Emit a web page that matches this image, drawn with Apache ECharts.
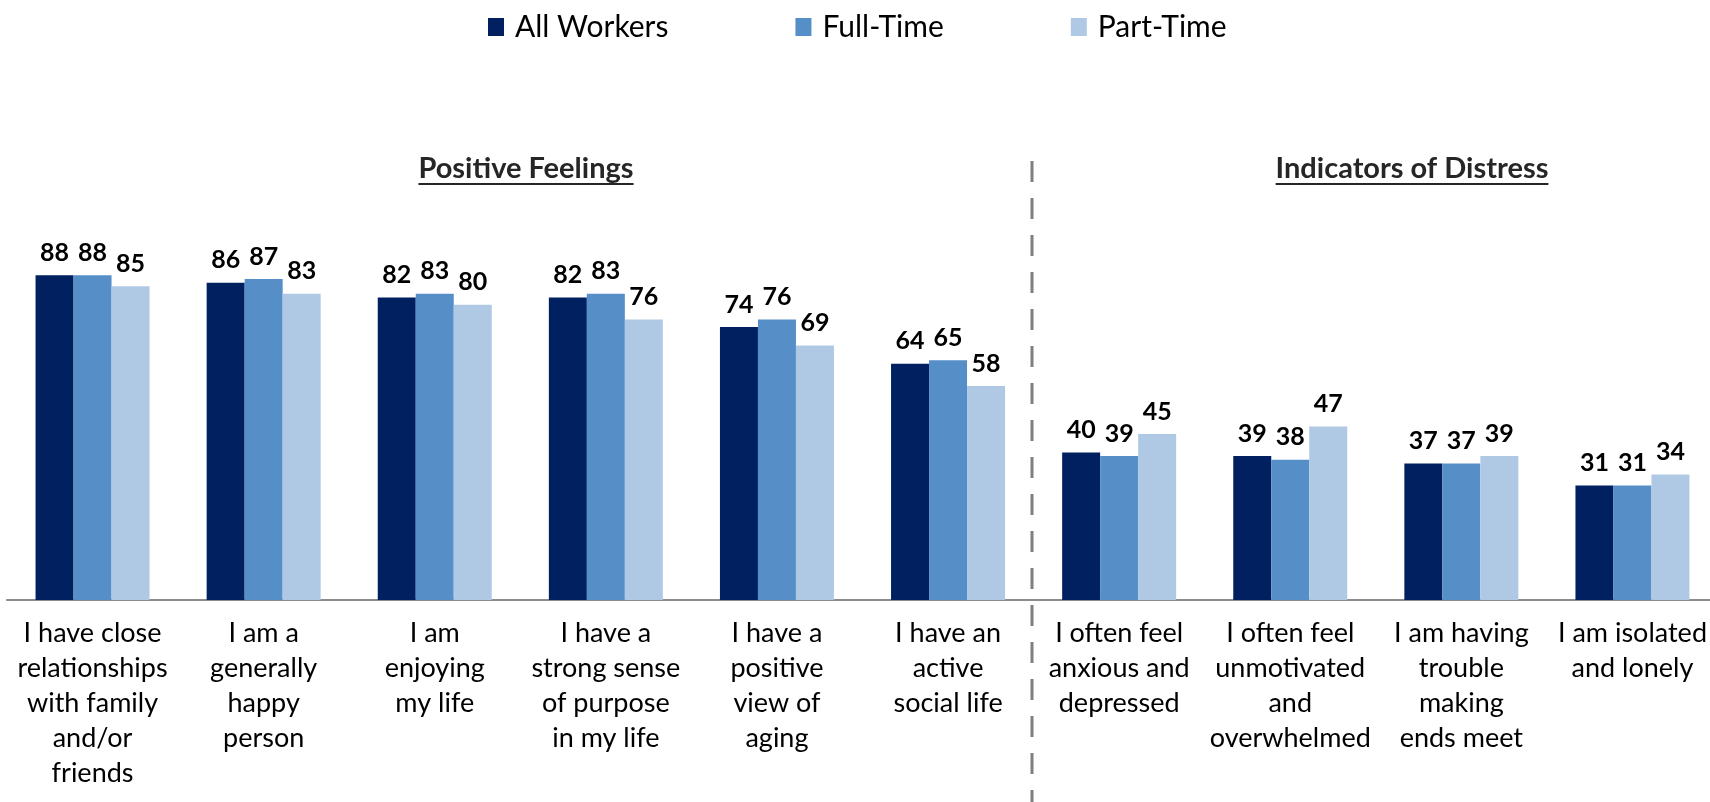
<!DOCTYPE html>
<html>
<head>
<meta charset="utf-8">
<title>Feelings chart</title>
<script src="https://cdn.jsdelivr.net/npm/echarts@6/dist/echarts.min.js"></script>
<style>
  html, body { margin: 0; padding: 0; background: #fff; overflow: hidden; }
  /* a bit wider than the window: the last group runs off the right edge */
  #chart { width: 1720px; height: 802px; }
</style>
</head>
<body>
<div id="chart"></div>
<script>
var categories = [
  'I have close\nrelationships\nwith family\nand/or\nfriends',
  'I am a\ngenerally\nhappy\nperson',
  'I am\nenjoying\nmy life',
  'I have a\nstrong sense\nof purpose\nin my life',
  'I have a\npositive\nview of\naging',
  'I have an\nactive\nsocial life',
  'I often feel\nanxious and\ndepressed',
  'I often feel\nunmotivated\nand\noverwhelmed',
  'I am having\ntrouble\nmaking\nends meet',
  'I am isolated\nand lonely'
]
var allWorkers = [88, 86, 82, 82, 74, 64, 40, 39, 37, 31]
var fullTime = [88, 87, 83, 83, 76, 65, 39, 38, 37, 31]
var partTime = [85, 83, 80, 76, 69, 58, 45, 47, 39, 34]
var seriesNames = ['All Workers', 'Full-Time', 'Part-Time']
var sectionTitles = ['Positive Feelings', 'Indicators of Distress']

var FONT = 'Lato, "Open Sans", sans-serif'
var colors = ['#002060', '#568EC8', '#AFC9E4']

var chart = echarts.init(document.getElementById('chart'))

function barSeries(name, data, color) {
  return {
    name: name,
    type: 'bar',
    data: data,
    barWidth: 38,
    barGap: '0%',
    itemStyle: { color: color },
    label: {
      show: true,
      position: 'top',
      distance: 10,
      fontFamily: FONT,
      fontWeight: 'bold',
      fontSize: 25,
      color: '#000'
    }
  }
}

// measure text so the underline fits the section title
function textWidth(str, font) {
  var ctx = document.createElement('canvas').getContext('2d')
  ctx.font = font
  return ctx.measureText(str).width
}

chart.setOption({
  animation: false,
  color: colors,
  legend: {
    top: 7,
    left: 483,
    itemGap: 127,
    itemWidth: 16,
    itemHeight: 18,
    icon: 'rect',
    textStyle: { fontFamily: FONT, fontSize: 30, color: '#000', padding: [0, 0, 0, 6] },
    data: seriesNames
  },
  grid: {
    left: 7,
    right: 2,
    top: 231,
    bottom: 202,
    containLabel: false
  },
  xAxis: {
    type: 'category',
    data: categories,
    axisTick: { show: false },
    axisLine: { lineStyle: { color: '#8c8c8c', width: 2 } },
    axisLabel: {
      interval: 0,
      margin: 16,
      fontFamily: FONT,
      fontSize: 27,
      lineHeight: 35,
      color: '#000'
    }
  },
  yAxis: {
    type: 'value',
    min: 0,
    max: 100,
    show: false,
    splitLine: { show: false }
  },
  series: [
    barSeries(seriesNames[0], allWorkers, colors[0]),
    barSeries(seriesNames[1], fullTime, colors[1]),
    barSeries(seriesNames[2], partTime, colors[2])
  ]
})

// divider between the two groups and the underlined section titles
var x5 = chart.convertToPixel({ xAxisIndex: 0 }, 5)
var x6 = chart.convertToPixel({ xAxisIndex: 0 }, 6)
var divX = Math.round((x5 + x6) / 2) - 2

var titleFont = 'bold 29px ' + FONT
var titleX = [526, 1412]
var titleY = 169
var graphics = [{
  type: 'line',
  shape: { x1: divX, y1: 161, x2: divX, y2: 802 },
  style: { stroke: '#7f7f7f', lineWidth: 3, lineDash: [21, 16] },
  silent: true
}]
sectionTitles.forEach(function(t, i) {
  var w = textWidth(t, titleFont)
  graphics.push({
    type: 'text',
    x: titleX[i],
    y: titleY,
    style: {
      text: t,
      font: titleFont,
      fill: '#262626',
      align: 'center',
      verticalAlign: 'middle'
    }
  })
  graphics.push({
    type: 'rect',
    shape: { x: titleX[i] - w / 2, y: titleY + 14, width: w, height: 2 },
    style: { fill: '#262626' }
  })
})
chart.setOption({ graphic: graphics })
</script>
</body>
</html>
